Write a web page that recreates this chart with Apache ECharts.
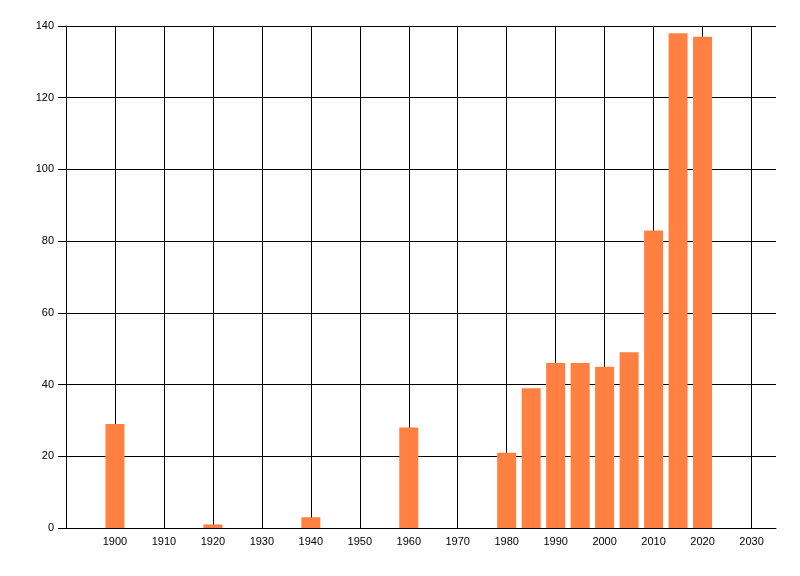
<!DOCTYPE html>
<html>
<head>
<meta charset="utf-8">
<script src="https://cdn.jsdelivr.net/npm/echarts@6/dist/echarts.min.js"></script>
<style>
html,body{margin:0;padding:0;background:#fff;}
#chart{width:800px;height:576px;}
</style>
</head>
<body>
<div id="chart"></div>
<script>
const years = [1900, 1920, 1940, 1960, 1980, 1985, 1990, 1995, 2000, 2005, 2010, 2015, 2020];
const values = [29, 1, 3, 28, 21, 39, 46, 46, 45, 49, 83, 138, 137];

const chart = echarts.init(document.getElementById('chart'), null, {renderer: 'canvas'});
const font = {fontFamily: 'Liberation Sans', fontSize: 11, color: '#000'};
chart.setOption({
  animation: false,
  backgroundColor: '#fff',
  grid: {left: 66, top: 26, width: 710, height: 502, containLabel: false},
  xAxis: {
    type: 'value', min: 1890, max: 2035, interval: 10,
    axisLine: {show: true, lineStyle: {color: '#000', width: 1}},
    axisTick: {show: false},
    axisLabel: Object.assign({margin: 8, showMinLabel: false, showMaxLabel: false,
      formatter: v => (v % 10 === 0 && v > 1890) ? String(v) : ''}, font),
    splitLine: {show: true, showMinLine: false, showMaxLine: false, lineStyle: {color: '#000', width: 1}}
  },
  yAxis: {
    type: 'value', min: 0, max: 140, interval: 20,
    axisLine: {show: true, lineStyle: {color: '#000', width: 1}},
    axisTick: {show: true, length: 8, lineStyle: {color: '#000'}},
    axisLabel: Object.assign({margin: 12}, font),
    splitLine: {show: true, lineStyle: {color: '#000', width: 1}}
  },
  series: [{
    type: 'bar',
    data: years.map((y, i) => [y, values[i]]),
    barWidth: 19,
    itemStyle: {color: '#ff8040'}
  }]
});
</script>
</body>
</html>
